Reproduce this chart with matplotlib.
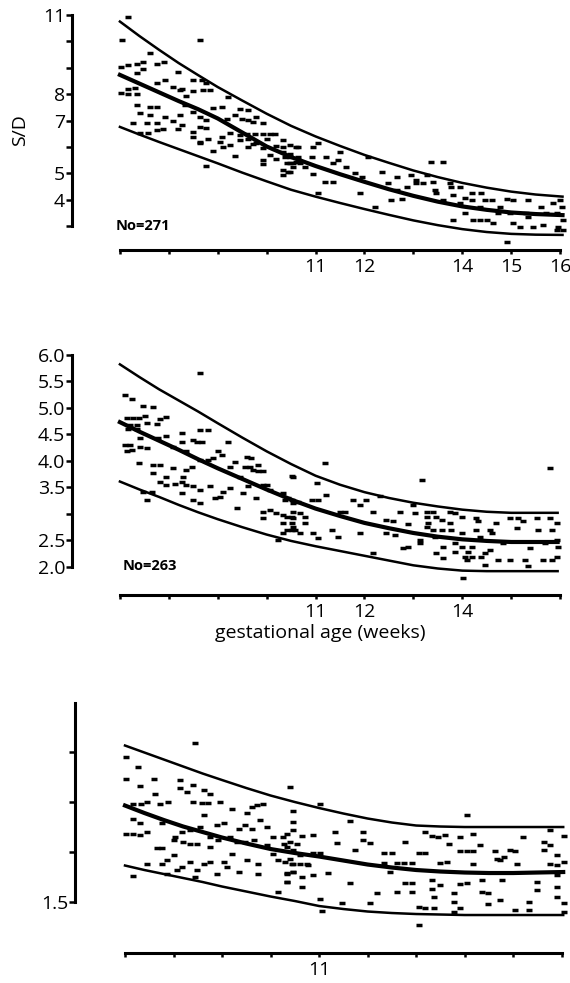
import numpy as np
import matplotlib
matplotlib.use("Agg")
import matplotlib.pyplot as plt

plt.rcParams['font.family'] = ['Open Sans', 'DejaVu Sans']

# --- data ---
# panel 1: S/D vs gestational age
sd_points = np.array([
    (7.17, 10.91), (7.05, 10.05), (8.64, 10.05), (7.61, 9.57), (7.03, 9.04), (7.17, 9.11),
    (7.34, 9.14), (7.48, 9.23), (7.75, 9.14), (7.90, 9.23), (7.34, 8.82), (7.48, 8.94),
    (7.75, 8.44), (7.92, 8.54), (8.19, 8.85), (8.09, 8.26), (8.26, 8.18), (8.50, 8.54),
    (8.67, 8.54), (8.77, 8.41), (7.17, 8.18), (7.31, 8.22), (7.03, 8.03), (7.17, 8.01),
    (7.34, 7.99), (8.23, 8.16), (8.36, 7.93), (8.50, 8.13), (8.70, 8.16), (8.84, 8.16),
    (9.22, 7.91), (7.34, 7.59), (7.61, 7.53), (7.75, 7.53), (8.33, 7.59), (8.91, 7.46),
    (9.08, 7.50), (9.45, 7.43), (9.62, 7.40), (7.41, 7.28), (7.61, 7.21), (7.92, 7.15),
    (8.23, 7.21), (8.50, 7.34), (8.64, 7.15), (9.18, 7.06), (9.35, 7.21), (9.49, 7.05),
    (9.62, 7.02), (9.79, 7.15), (7.27, 6.92), (7.55, 6.92), (7.75, 6.92), (8.09, 7.00),
    (8.26, 6.83), (8.77, 7.02), (9.73, 6.95), (9.93, 6.90), (7.41, 6.52), (7.58, 6.54),
    (7.75, 6.64), (7.89, 6.67), (8.19, 6.67), (8.50, 6.58), (8.64, 6.74), (8.77, 6.71),
    (8.50, 6.39), (8.64, 6.20), (8.81, 6.29), (9.08, 6.39), (9.25, 6.54), (9.45, 6.45),
    (9.59, 6.49), (9.76, 6.49), (9.93, 6.49), (10.07, 6.49), (9.05, 6.20), (9.25, 6.08),
    (9.45, 6.27), (9.62, 6.29), (9.79, 6.14), (10.0, 6.29), (10.17, 6.48), (8.64, 6.14),
    (8.91, 5.86), (9.11, 6.01), (9.35, 5.67), (9.62, 6.01), (9.73, 6.11), (9.93, 5.95),
    (10.20, 6.04), (10.34, 6.27), (10.34, 6.01), (10.48, 6.08), (10.65, 6.01), (9.93, 5.51),
    (9.93, 5.36), (10.07, 5.70), (10.20, 5.53), (10.34, 5.82), (10.37, 5.63), (10.48, 5.73),
    (10.54, 5.38), (10.65, 5.63), (8.77, 5.28), (10.34, 4.94), (10.44, 5.07), (10.48, 5.38),
    (10.61, 5.44), (10.47, 5.63), (10.61, 6.01), (10.41, 5.38), (10.34, 5.13), (10.47, 5.07),
    (10.54, 5.26), (10.68, 5.38), (10.78, 5.26), (10.95, 6.01), (11.05, 6.14), (10.92, 5.63),
    (11.22, 5.63), (11.36, 5.38), (10.95, 4.98), (11.19, 4.69), (11.36, 4.69), (11.05, 4.24),
    (11.50, 5.82), (11.46, 5.51), (11.63, 5.26), (11.80, 5.00), (11.94, 4.88), (11.91, 4.27),
    (12.08, 5.63), (12.21, 3.74), (12.35, 5.07), (12.49, 4.62), (12.66, 4.88), (12.55, 3.99),
    (12.66, 4.37), (12.76, 4.02), (12.86, 4.50), (12.96, 4.94), (13.06, 4.75), (13.06, 4.62),
    (13.20, 4.65), (13.27, 4.94), (13.37, 5.44), (13.41, 4.69), (13.44, 4.37), (13.61, 5.44),
    (13.47, 4.24), (13.61, 3.99), (13.75, 4.62), (13.78, 4.50), (13.81, 4.18), (13.81, 3.23),
    (13.95, 4.50), (13.95, 3.87), (14.05, 4.06), (14.05, 3.49), (14.19, 4.24), (14.19, 3.99),
    (14.22, 3.23), (14.36, 3.74), (14.36, 3.23), (14.39, 4.24), (14.46, 3.99), (14.50, 3.23),
    (14.60, 3.99), (14.63, 3.11), (14.74, 3.49), (14.77, 3.74), (14.91, 4.02), (14.91, 2.41),
    (14.97, 3.49), (15.04, 3.99), (15.04, 3.11), (15.18, 2.98), (15.31, 3.49), (15.35, 3.99),
    (15.35, 3.36), (15.45, 2.98), (15.62, 3.74), (15.66, 3.05), (15.72, 3.49), (15.86, 3.87),
    (15.93, 3.49), (15.93, 2.86), (16.0, 3.99), (16.03, 3.74), (16.06, 3.23), (16.06, 2.86),
    (15.96, 2.98),
])
sd_curve_weeks = [7.0, 7.4, 7.8, 8.2, 8.6, 9.0, 9.5, 10.0, 10.5, 11.0, 11.5, 12.0, 12.5,
                  13.0, 13.5, 14.0, 14.5, 15.0, 15.5, 16.05]
sd_upper = [10.75, 10.20, 9.68, 9.18, 8.72, 8.27, 7.76, 7.26, 6.80, 6.40, 6.04, 5.70, 5.40,
            5.11, 4.86, 4.64, 4.46, 4.31, 4.20, 4.12]
sd_median = [8.73, 8.40, 8.07, 7.74, 7.43, 7.08, 6.55, 6.02, 5.62, 5.28, 4.97, 4.68, 4.40,
             4.15, 3.93, 3.75, 3.62, 3.52, 3.46, 3.42]
sd_lower = [6.76, 6.47, 6.19, 5.92, 5.65, 5.38, 5.03, 4.70, 4.38, 4.12, 3.88, 3.65, 3.43,
            3.22, 3.04, 2.89, 2.78, 2.71, 2.68, 2.67]

# panel 2
pi_points = np.array([
    (7.10, 5.25), (7.24, 5.17), (7.48, 5.03), (7.68, 5.01), (7.14, 4.81), (7.26, 4.81),
    (7.40, 4.81), (7.51, 4.85), (7.82, 4.79), (7.95, 4.82), (7.20, 4.68), (7.35, 4.68),
    (7.55, 4.71), (7.75, 4.70), (7.17, 4.60), (7.34, 4.60), (7.41, 4.43), (7.10, 4.30),
    (7.20, 4.30), (7.24, 4.21), (7.41, 4.27), (7.55, 4.24), (7.14, 4.19), (7.38, 3.96),
    (7.68, 3.92), (7.82, 3.92), (7.78, 4.43), (7.95, 4.46), (8.26, 4.52), (8.09, 4.27),
    (8.26, 4.36), (8.36, 4.18), (8.50, 4.40), (8.64, 4.58), (8.81, 4.58), (8.57, 4.35),
    (8.67, 4.35), (9.01, 4.18), (9.22, 4.35), (7.68, 3.77), (7.82, 3.61), (7.95, 3.70),
    (8.09, 3.86), (8.12, 3.57), (8.26, 3.61), (8.30, 3.70), (8.36, 3.83), (8.47, 3.88),
    (8.64, 4.02), (8.81, 4.02), (8.91, 4.05), (9.08, 4.11), (9.25, 3.89), (9.35, 3.97),
    (9.59, 4.08), (9.69, 4.06), (9.45, 3.70), (9.56, 3.89), (9.66, 3.89), (9.73, 3.83),
    (9.83, 3.92), (9.83, 3.80), (9.93, 3.80), (7.48, 3.42), (7.65, 3.42), (7.95, 3.55),
    (8.26, 3.39), (8.36, 3.55), (8.50, 3.52), (8.64, 3.45), (8.84, 3.52), (8.94, 3.30),
    (9.05, 3.31), (9.11, 3.42), (9.25, 3.48), (9.39, 3.12), (9.52, 3.39), (9.62, 3.52),
    (9.79, 3.30), (9.93, 3.55), (10.0, 3.55), (10.07, 3.45), (8.64, 3.20), (8.50, 3.26),
    (7.55, 3.26), (9.93, 3.04), (9.93, 2.92), (10.07, 3.08), (10.20, 3.01), (10.34, 2.98),
    (10.41, 2.95), (10.54, 3.03), (10.54, 2.92), (10.51, 3.72), (10.34, 3.39), (10.44, 3.30),
    (10.51, 3.26), (10.34, 2.82), (10.51, 2.82), (10.34, 2.64), (10.51, 2.70), (10.54, 2.75),
    (10.24, 2.51), (10.54, 3.20), (8.64, 5.65),
    (10.37, 3.26), (10.54, 3.70), (10.64, 3.23), (10.51, 2.95), (10.58, 2.70), (10.68, 3.01),
    (10.78, 2.95), (10.78, 2.82), (10.41, 2.70), (10.68, 2.64), (10.92, 3.26), (11.05, 3.26),
    (11.02, 3.58), (11.19, 3.96), (11.22, 3.36), (10.95, 2.64), (11.05, 2.54), (11.33, 2.70),
    (11.46, 2.57), (11.50, 3.03), (11.60, 3.03), (11.77, 3.26), (11.91, 3.17), (12.04, 3.26),
    (11.91, 2.64), (12.18, 3.04), (12.18, 2.27), (12.31, 3.33), (12.45, 2.89), (12.59, 2.86),
    (12.45, 2.64), (12.62, 2.60), (12.72, 3.04), (12.79, 2.35), (12.89, 2.38), (12.89, 2.81),
    (13.0, 3.17), (13.03, 3.01), (13.17, 3.64), (13.13, 2.51), (13.13, 2.45), (13.27, 3.04),
    (13.27, 2.95), (13.27, 2.76), (13.30, 2.82), (13.41, 3.04), (13.47, 2.95), (13.41, 2.70),
    (13.44, 2.57), (13.47, 2.26), (13.58, 2.89), (13.58, 2.70), (13.61, 2.38), (13.61, 2.16),
    (13.75, 3.03), (13.75, 2.82), (13.78, 2.70), (13.85, 3.01), (13.85, 2.45), (13.85, 2.29),
    (13.99, 2.95), (13.99, 2.64), (13.99, 2.38), (14.02, 1.79), (14.05, 2.19), (14.12, 2.29),
    (14.09, 2.13), (14.19, 2.19), (14.19, 2.38), (14.29, 2.92), (14.29, 2.70), (14.33, 2.86),
    (14.36, 2.57), (14.39, 2.19), (14.46, 2.26), (14.46, 2.04), (14.56, 2.70), (14.60, 2.64),
    (14.56, 2.32), (14.70, 2.82), (14.74, 2.13), (14.84, 2.45), (14.97, 2.92), (14.97, 2.13),
    (15.11, 2.73), (15.14, 2.92), (15.25, 2.86), (15.28, 2.13), (15.35, 2.01), (15.38, 2.35),
    (15.52, 2.92), (15.55, 2.70), (15.66, 2.13), (15.69, 2.45), (15.79, 3.86), (15.79, 2.92),
    (15.83, 2.70), (15.83, 2.13), (15.93, 2.82), (15.93, 2.51), (15.93, 2.19), (15.96, 2.38),
])
pi_curve_weeks = [7.0, 7.4, 7.8, 8.2, 8.6, 9.0, 9.5, 10.0, 10.5, 11.0, 11.5, 12.0, 12.5,
                  13.0, 13.5, 14.0, 14.5, 15.0, 15.5, 15.95]
pi_upper = [5.82, 5.58, 5.35, 5.14, 4.93, 4.71, 4.44, 4.18, 3.94, 3.72, 3.55, 3.41, 3.30,
            3.21, 3.14, 3.08, 3.04, 3.02, 3.02, 3.02]
pi_median = [4.73, 4.55, 4.38, 4.21, 4.03, 3.86, 3.66, 3.46, 3.27, 3.10, 2.96, 2.83, 2.73,
             2.64, 2.57, 2.52, 2.49, 2.47, 2.47, 2.47]
pi_lower = [3.61, 3.46, 3.32, 3.17, 3.03, 2.90, 2.75, 2.61, 2.49, 2.39, 2.30, 2.21, 2.12,
            2.03, 1.97, 1.93, 1.92, 1.92, 1.92, 1.92]

# panel 3
ri_points = np.array([
    (8.44, 1.819), (7.03, 1.791), (7.27, 1.771), (7.03, 1.747), (7.60, 1.747), (7.31, 1.732),
    (8.13, 1.744), (8.13, 1.729), (8.27, 1.721), (8.41, 1.734), (8.62, 1.724), (8.75, 1.716),
    (7.62, 1.717), (7.17, 1.697), (7.34, 1.697), (7.45, 1.701), (7.72, 1.696), (7.89, 1.701),
    (8.41, 1.701), (8.58, 1.699), (8.72, 1.699), (8.96, 1.701), (9.20, 1.686), (9.51, 1.679),
    (9.61, 1.691), (9.71, 1.694), (9.85, 1.697), (8.62, 1.674), (7.17, 1.667), (7.31, 1.659),
    (7.03, 1.636), (7.17, 1.636), (7.31, 1.634), (7.45, 1.641), (7.76, 1.659), (8.03, 1.631),
    (8.17, 1.641), (8.34, 1.644), (8.55, 1.651), (8.75, 1.631), (8.89, 1.654), (9.03, 1.659),
    (9.34, 1.647), (9.47, 1.654), (9.61, 1.647), (9.78, 1.664), (9.92, 1.651), (7.65, 1.609),
    (7.76, 1.609), (8.0, 1.624), (8.20, 1.621), (8.34, 1.617), (8.48, 1.617), (8.75, 1.611),
    (8.92, 1.624), (9.16, 1.631), (9.30, 1.621), (9.47, 1.621), (9.65, 1.624), (9.92, 1.614),
    (10.06, 1.631), (10.26, 1.631), (10.40, 1.621), (10.47, 1.644), (10.54, 1.617), (7.45, 1.577),
    (7.76, 1.577), (7.86, 1.584), (8.0, 1.594), (8.17, 1.571), (8.34, 1.581), (8.48, 1.564),
    (8.62, 1.577), (8.75, 1.581), (8.89, 1.557), (9.03, 1.581), (9.10, 1.571), (9.20, 1.596),
    (9.34, 1.561), (9.51, 1.584), (9.75, 1.576), (9.75, 1.557), (7.17, 1.552), (7.86, 1.557),
    (8.07, 1.564), (8.44, 1.551), (10.06, 1.597), (10.16, 1.584), (10.30, 1.581), (10.33, 1.557),
    (10.33, 1.541), (10.47, 1.577), (10.47, 1.561), (10.16, 1.521), (10.40, 1.731), (10.47, 1.683),
    (10.47, 1.661),
    (10.33, 1.636), (10.64, 1.633), (10.88, 1.634), (11.33, 1.641), (11.36, 1.619), (11.64, 1.662),
    (11.91, 1.641), (11.91, 1.624), (12.05, 1.619), (11.74, 1.605), (10.27, 1.616), (10.33, 1.611),
    (10.47, 1.605), (10.61, 1.594), (10.40, 1.587), (10.44, 1.577), (10.61, 1.577), (10.75, 1.577),
    (10.78, 1.574), (10.88, 1.599), (11.02, 1.599), (11.02, 1.697), (11.19, 1.559), (10.33, 1.559),
    (10.47, 1.561), (10.64, 1.551), (10.33, 1.541), (10.64, 1.531), (10.88, 1.554), (11.02, 1.507),
    (11.06, 1.482), (11.47, 1.499), (11.64, 1.539), (12.05, 1.499), (12.19, 1.519), (12.33, 1.599),
    (12.50, 1.599), (12.33, 1.579), (12.60, 1.579), (12.74, 1.579), (12.91, 1.579), (12.46, 1.561),
    (12.77, 1.621), (12.77, 1.539), (12.91, 1.539), (12.60, 1.521), (12.91, 1.521), (13.05, 1.599),
    (13.19, 1.599), (13.19, 1.641), (13.32, 1.633), (13.46, 1.631), (13.60, 1.634), (13.67, 1.617),
    (13.49, 1.579), (13.63, 1.581), (13.32, 1.544), (13.32, 1.527), (13.36, 1.511), (13.49, 1.534),
    (13.05, 1.491), (13.19, 1.489), (13.36, 1.489), (13.05, 1.455), (13.91, 1.631), (14.04, 1.674),
    (13.91, 1.602), (14.04, 1.602), (14.18, 1.602), (14.18, 1.636), (14.32, 1.614), (14.18, 1.577),
    (13.91, 1.537), (14.04, 1.539), (13.77, 1.519), (13.77, 1.501), (13.91, 1.489), (13.77, 1.481),
    (14.35, 1.544), (14.35, 1.521), (14.49, 1.519), (14.73, 1.505), (14.49, 1.497), (14.63, 1.602),
    (14.66, 1.587), (14.73, 1.584), (14.80, 1.591), (14.94, 1.604), (15.04, 1.602), (15.08, 1.577),
    (14.77, 1.544), (15.21, 1.631), (15.49, 1.541), (15.49, 1.524), (15.32, 1.501), (15.04, 1.484),
    (15.32, 1.484), (15.63, 1.621), (15.63, 1.604), (15.76, 1.644), (15.76, 1.614), (15.76, 1.577),
    (15.90, 1.594), (15.90, 1.574), (15.90, 1.554), (15.90, 1.531), (15.90, 1.511), (16.04, 1.633),
    (16.04, 1.581), (16.04, 1.499), (16.04, 1.481),
])
ri_curve_weeks = [7.0, 7.4, 7.8, 8.2, 8.6, 9.0, 9.5, 10.0, 10.5, 11.0, 11.5, 12.0, 12.5,
                  13.0, 13.5, 14.0, 14.5, 15.0, 15.5, 16.03]
ri_upper = [1.813, 1.799, 1.785, 1.771, 1.757, 1.744, 1.728, 1.713, 1.700, 1.688, 1.677,
            1.667, 1.659, 1.653, 1.651, 1.650, 1.650, 1.650, 1.650, 1.650]
ri_median = [1.693, 1.678, 1.664, 1.651, 1.640, 1.629, 1.617, 1.606, 1.598, 1.591, 1.583,
             1.575, 1.569, 1.564, 1.561, 1.559, 1.558, 1.558, 1.559, 1.560]
ri_lower = [1.573, 1.564, 1.556, 1.548, 1.540, 1.531, 1.521, 1.511, 1.502, 1.492, 1.486,
            1.481, 1.478, 1.476, 1.475, 1.474, 1.474, 1.474, 1.474, 1.474]

week_ticks = list(range(7, 17))


def style_panel(ax, xlim, ylim, ybounds, yticks, ylabels, xlabels):
    ax.set_xlim(*xlim)
    ax.set_ylim(*ylim)
    for side in ('top', 'right'):
        ax.spines[side].set_visible(False)
    ax.spines['left'].set_linewidth(2.2)
    ax.spines['bottom'].set_linewidth(2.2)
    ax.spines['left'].set_bounds(*ybounds)
    ax.spines['bottom'].set_bounds(week_ticks[0], week_ticks[-1])
    ax.set_yticks(yticks)
    ax.set_yticklabels(ylabels)
    ax.set_xticks(week_ticks)
    ax.set_xticklabels([str(w) if str(w) in xlabels else '' for w in week_ticks])
    ax.tick_params(axis='y', direction='out', length=4, width=1.8, labelsize=14, pad=1)
    ax.tick_params(axis='x', direction='out', length=3, width=1.8, labelsize=14, pad=3)


def draw(ax, pts, weeks, upper, median, lower):
    ax.plot(pts[:, 0], pts[:, 1], linestyle='none', marker='_', ms=4.8, mew=2.5, color='black')
    ax.plot(weeks, upper, color='black', lw=1.8, solid_joinstyle='round')
    ax.plot(weeks, lower, color='black', lw=1.8, solid_joinstyle='round')
    ax.plot(weeks, median, color='black', lw=3.0, solid_joinstyle='round')


fig = plt.figure(figsize=(5.7, 9.83), dpi=100)

ax1 = fig.add_axes([0.1263, 0.7457, 0.870, 0.2442])
draw(ax1, sd_points, sd_curve_weeks, sd_upper, sd_median, sd_lower)
style_panel(ax1, (6.02, 16.16), (2.10, 11.19), (3, 11), list(range(3, 12)),
            ['', '4', '5', '', '7', '8', '', '', '11'], ['11', '12', '14', '15', '16'])
ax1.set_ylabel('S/D', fontsize=14, labelpad=10)
ax1.text(6.92, 3.0, 'No=271', fontsize=10.5, fontweight='bold', va='center', ha='left')

ax2 = fig.add_axes([0.1263, 0.3947, 0.870, 0.2492])
draw(ax2, pi_points, pi_curve_weeks, pi_upper, pi_median, pi_lower)
pi_ticks = [2.0, 2.5, 3.0, 3.5, 4.0, 4.5, 5.0, 5.5, 6.0]
style_panel(ax2, (6.02, 16.16), (1.47, 6.09), (2.0, 6.0), pi_ticks,
            ['2.0', '2.5', '', '3.5', '4.0', '4.5', '5.0', '5.5', '6.0'], ['11', '12', '14'])
ax2.text(7.06, 2.02, 'No=263', fontsize=10.5, fontweight='bold', va='center', ha='left')
ax2.set_xlabel('gestational age (weeks)', fontsize=14, labelpad=2)

ax3 = fig.add_axes([0.1316, 0.0305, 0.865, 0.2594])
draw(ax3, ri_points, ri_curve_weeks, ri_upper, ri_median, ri_lower)
style_panel(ax3, (5.97, 16.13), (1.398, 1.908), (1.5, 1.898), [1.5, 1.6, 1.7, 1.8],
            ['1.5', '', '', ''], ['11'])

fig.savefig('out.png', dpi=100)
